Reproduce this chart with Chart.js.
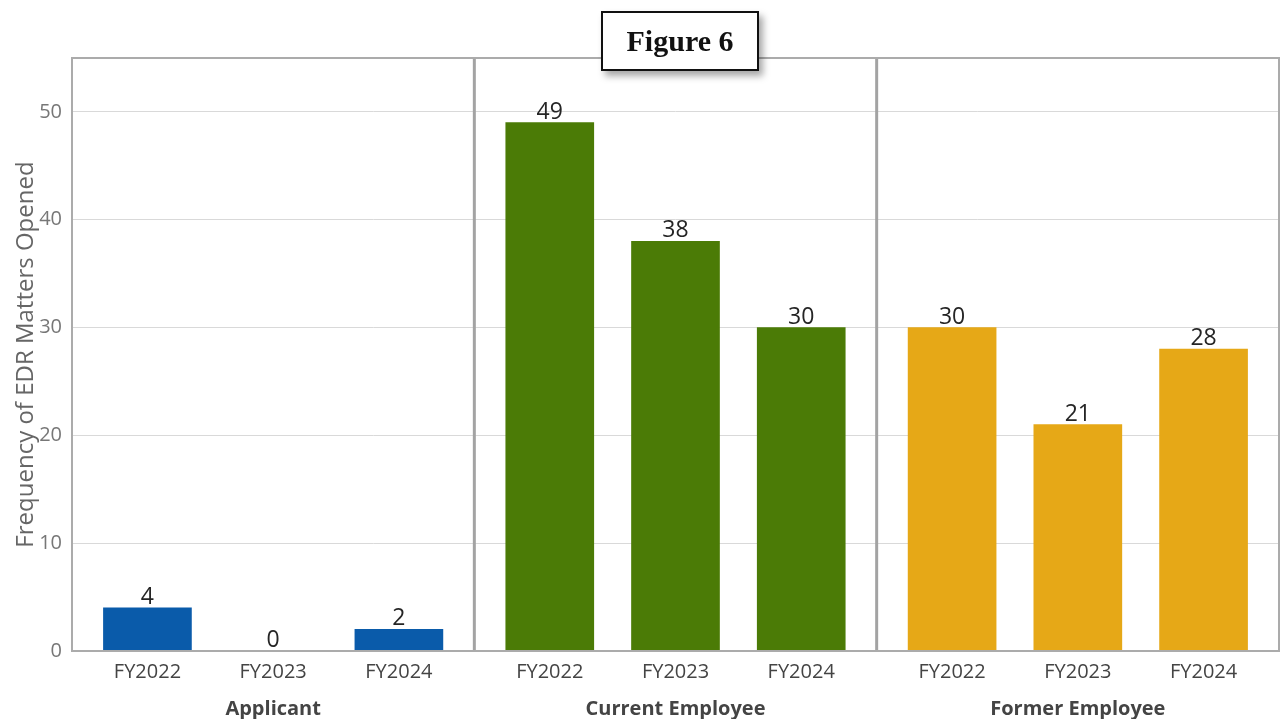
<!DOCTYPE html>
<html>
<head>
<meta charset="utf-8">
<script src="https://cdn.jsdelivr.net/npm/chart.js@4.4.1/dist/chart.umd.min.js"></script>
<style>
  html, body { margin: 0; padding: 0; background: #fff; }
  #wrap { position: relative; width: 1283px; height: 719px; }
  #fig {
    position: absolute; left: 601px; top: 11px; width: 154px; height: 56px;
    border: 2px solid #111; background: #fff;
    box-shadow: 4px 5px 7px rgba(0,0,0,0.35);
    font: bold 30px "Liberation Serif", serif; color: #111;
    display: flex; align-items: center; justify-content: center;
  }
</style>
</head>
<body>
<div id="wrap">
  <canvas id="c" width="1283" height="719"></canvas>
  <div id="fig">Figure 6</div>
</div>
<script>
// Categories and values
const groups = ['Applicant', 'Current Employee', 'Former Employee'];
const years = ['FY2022', 'FY2023', 'FY2024'];
const applicant = [4, 0, 2];
const currentEmployee = [49, 38, 30];
const formerEmployee = [30, 21, 28];
const yTicks = [0, 10, 20, 30, 40, 50];

const series = [applicant, currentEmployee, formerEmployee];
const colors = ['#0a5baa', '#4b7b06', '#e6a817'];

// Layout of the panels on a linear x scale: each panel spans 3.2 units
const PANEL = 3.2, OFFSET = 0.6;
const pos = (g, i) => g * PANEL + OFFSET + i;
const barPositions = [], barLabels = [];
groups.forEach((_, g) => years.forEach((y, i) => { barPositions.push(pos(g, i)); barLabels.push(y); }));
const groupCenters = groups.map((_, g) => g * PANEL + PANEL / 2);
const dividers = [PANEL, 2 * PANEL];

const datasets = series.map((vals, g) => ({
  label: groups[g],
  data: vals.map((v, i) => ({ x: pos(g, i), y: v })),
  backgroundColor: colors[g],
  barThickness: 88,
  grouped: false
}));

// Panel frame, dividers and value labels
const panelPlugin = {
  id: 'panels',
  beforeDatasetsDraw(chart) {
    const { ctx, chartArea: a, scales } = chart;
    ctx.save();
    ctx.strokeStyle = '#a3a3a3';
    ctx.lineWidth = 3;
    dividers.forEach(v => {
      const px = scales.x.getPixelForValue(v);
      ctx.beginPath(); ctx.moveTo(px, a.top); ctx.lineTo(px, a.bottom); ctx.stroke();
    });
    ctx.restore();
  },
  afterDatasetsDraw(chart) {
    const { ctx, chartArea: a } = chart;
    ctx.save();
    ctx.strokeStyle = '#ababab';
    ctx.lineWidth = 2;
    ctx.strokeRect(a.left, a.top, a.right - a.left, a.bottom - a.top);
    ctx.fillStyle = '#252525';
    ctx.font = '23px "Open Sans", sans-serif';
    ctx.textAlign = 'center';
    ctx.textBaseline = 'alphabetic';
    chart.data.datasets.forEach((ds, di) => {
      chart.getDatasetMeta(di).data.forEach((bar, i) => {
        ctx.fillText(String(series[di][i]), bar.x, bar.y - 4);
      });
    });
    ctx.restore();
  }
};

new Chart(document.getElementById('c'), {
  type: 'bar',
  data: { datasets },
  plugins: [panelPlugin],
  options: {
    responsive: false,
    animation: false,
    layout: { padding: { top: 58, right: 4, left: 0, bottom: 0 } },
    plugins: { legend: { display: false }, tooltip: { enabled: false } },
    scales: {
      x: {
        type: 'linear', min: 0, max: 3 * PANEL, position: 'bottom', offset: false,
        grid: { display: false, drawTicks: false },
        border: { display: false },
        afterBuildTicks: s => { s.ticks = barPositions.map(v => ({ value: v })); },
        afterFit: s => { s.height = 39; },
        ticks: {
          autoSkip: false, maxRotation: 0, padding: 9,
          color: '#444', font: { family: '"Open Sans", sans-serif', size: 20 },
          callback: (v, i) => barLabels[i]
        }
      },
      xg: {
        type: 'linear', min: 0, max: 3 * PANEL, position: 'bottom', offset: false,
        grid: { display: false, drawTicks: false },
        border: { display: false },
        afterBuildTicks: s => { s.ticks = groupCenters.map(v => ({ value: v })); },
        afterFit: s => { s.height = 29; },
        ticks: {
          autoSkip: false, maxRotation: 0, padding: 7,
          color: '#444', font: { family: '"Open Sans", sans-serif', size: 20, weight: 'bold' },
          callback: (v, i) => groups[i]
        }
      },
      y: {
        min: 0, max: 55,
        afterBuildTicks: s => { s.ticks = yTicks.map(v => ({ value: v })); },
        afterFit: s => { s.width = 72; },
        grid: { color: '#d9d9d9', lineWidth: 1, drawTicks: false },
        border: { display: false },
        ticks: { padding: 10, color: '#777', font: { family: '"Open Sans", sans-serif', size: 20 } },
        title: {
          display: true, text: 'Frequency of EDR Matters Opened',
          color: '#666', font: { family: '"Open Sans", sans-serif', size: 24 }, padding: { top: 12, bottom: 0 }
        }
      }
    }
  }
});
</script>
</body>
</html>
